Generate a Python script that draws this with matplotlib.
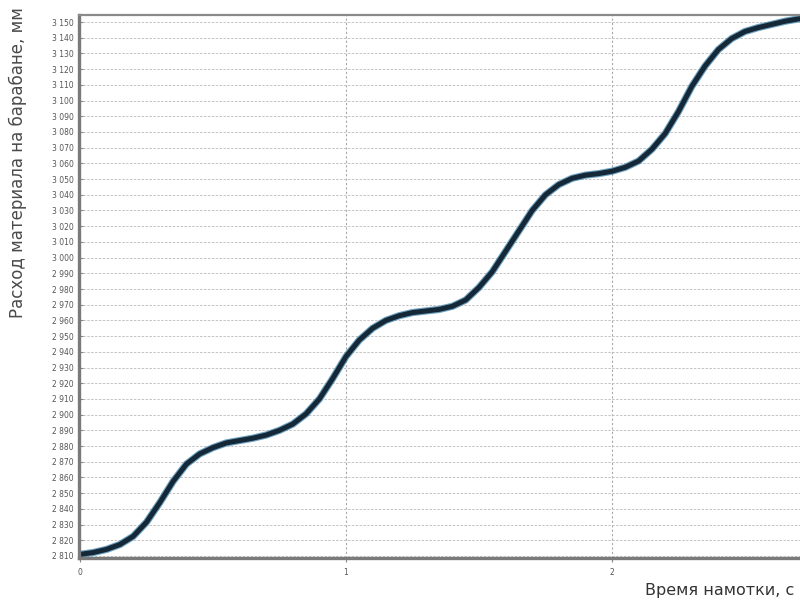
import matplotlib
matplotlib.use("Agg")
import matplotlib.pyplot as plt
from matplotlib.ticker import FuncFormatter

# Winding time, s
time_s = [0.00, 0.05, 0.10, 0.15, 0.20, 0.25, 0.30, 0.35, 0.40, 0.45, 0.50,
          0.55, 0.60, 0.65, 0.70, 0.75, 0.80, 0.85, 0.90, 0.95, 1.00, 1.05,
          1.10, 1.15, 1.20, 1.25, 1.30, 1.35, 1.40, 1.45, 1.50, 1.55, 1.60,
          1.65, 1.70, 1.75, 1.80, 1.85, 1.90, 1.95, 2.00, 2.05, 2.10, 2.15,
          2.20, 2.25, 2.30, 2.35, 2.40, 2.45, 2.50, 2.55, 2.60, 2.65, 2.70,
          2.74]
# Material consumed on the drum, mm
consumption_mm = [2811, 2812.2, 2814.2, 2817.3, 2822.5, 2831.5, 2844, 2857.5,
                  2868.5, 2875, 2879, 2882, 2883.5, 2885, 2887, 2890, 2894,
                  2900.5, 2910, 2923, 2937, 2947.5, 2955, 2960, 2963, 2965,
                  2966, 2967, 2969, 2973, 2981, 2991, 3004, 3017, 3030, 3040,
                  3046.5, 3050.5, 3052.5, 3053.5, 3055, 3057.5, 3061.5, 3069,
                  3079, 3093, 3109, 3122, 3132.5, 3139.5, 3144, 3146.5, 3148.5,
                  3150.5, 3152, 3153]

x_ticks = [0, 1, 2]
y_ticks = list(range(2810, 3151, 10))

fig = plt.figure(figsize=(8.0, 6.01), dpi=100)
ax = fig.add_axes([79 / 800, 1 - 558 / 601, 729 / 800, 543 / 601])

ax.set_xlim(-0.0038, 2.737)
ax.set_ylim(2808.7, 3154.5)

ax.set_xticks(x_ticks)
ax.set_yticks(y_ticks)
ax.yaxis.set_major_formatter(
    FuncFormatter(lambda v, p: f"{int(v):,}".replace(",", " ")))

ax.grid(axis="y", color="#c4c4c4", linestyle=(0, (2.5, 1.5)), linewidth=0.7)
ax.grid(axis="x", color="#a8a8a8", linestyle=(0, (2, 2)), linewidth=0.8)
ax.set_axisbelow(True)

ax.spines["right"].set_visible(False)
ax.spines["left"].set_color("#7a7a7a")
ax.spines["left"].set_linewidth(2.4)
ax.spines["bottom"].set_color("#7a7a7a")
ax.spines["bottom"].set_linewidth(2.4)
ax.spines["top"].set_color("#8a8a8a")
ax.spines["top"].set_linewidth(1.6)

ax.tick_params(axis="y", direction="in", length=3, width=0.8, color="#888888",
               labelsize=5.5, labelcolor="#555555", pad=4)
ax.tick_params(axis="x", direction="out", length=3, width=0.8, color="#888888",
               labelsize=5.5, labelcolor="#555555", pad=4)

# Curve: light blue halo under a dark navy core
ax.plot(time_s, consumption_mm, color="#4a8ab0", linewidth=5.2,
        solid_joinstyle="round", solid_capstyle="round", alpha=0.8)
ax.plot(time_s, consumption_mm, color="#152838", linewidth=3.6,
        solid_joinstyle="round", solid_capstyle="round")

fig.text(18 / 800, 1 - 163 / 601, "Расход материала на барабане, мм",
         rotation=90, ha="center", va="center", fontsize=12,
         color="#4a4a4a", family="DejaVu Sans")
fig.text(645 / 800, 1 - 590 / 601, "Время намотки, с",
         ha="left", va="center", fontsize=11.5, color="#333333",
         family="DejaVu Sans")

fig.savefig("out.png", dpi=100)
